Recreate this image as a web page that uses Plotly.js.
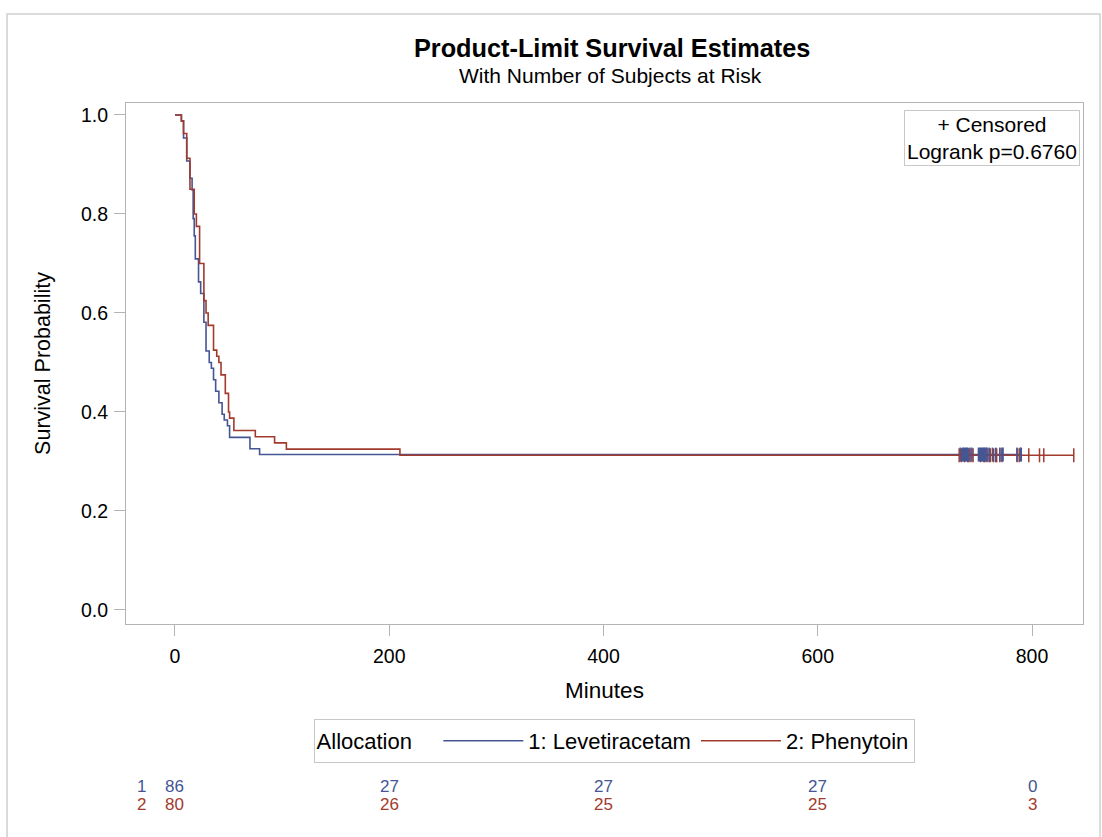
<!DOCTYPE html>
<html>
<head>
<meta charset="utf-8">
<script src="https://cdn.plot.ly/plotly-3.0.1.min.js"></script>
<style>
  html, body { margin: 0; padding: 0; background: #ffffff; }
  #chart { width: 1102px; height: 837px; }
</style>
</head>
<body>
<div id="chart"></div>
<script>
// ---- Data ----
const groupNames = ["1: Levetiracetam", "2: Phenytoin"];
const groupShort = ["1", "2"];

// Kaplan-Meier step points (time in minutes, survival after the step)
const levTimes = [0, 6, 8, 11, 14, 16, 17, 18, 19, 22, 24, 27, 29, 32, 34, 36, 38, 41, 44, 46, 49, 51, 70, 79];
const levSurv  = [1.0, 0.9884, 0.9535, 0.9070, 0.8721, 0.8488, 0.7907, 0.7558, 0.7093, 0.6628, 0.6395, 0.5814,
                  0.5233, 0.5000, 0.4884, 0.4651, 0.4419, 0.4186, 0.3953, 0.3837, 0.3721, 0.3488, 0.3256, 0.3140];

const pheTimes = [0, 6, 8, 11, 14, 18, 20, 23, 27, 29, 31, 36, 39, 41, 43, 47, 50, 51, 55, 75, 93, 104, 210];
const pheSurv  = [1.0, 0.9875, 0.9625, 0.9125, 0.85, 0.8, 0.775, 0.7, 0.625, 0.6, 0.575, 0.525, 0.5125, 0.5,
                  0.475, 0.4375, 0.4, 0.3875, 0.3625, 0.35, 0.3375, 0.325, 0.3125];

// Censored observation times
const levCensor = [733, 735, 736, 737, 738, 739, 740, 742, 744, 750, 751, 752, 753, 754, 755, 756, 757, 758,
                   760, 763, 766, 770, 772, 773, 786, 789, 790];
const pheCensor = [732, 734, 737, 740, 741, 743, 745, 752, 755, 756, 758, 760, 761, 764, 766, 767, 770, 772,
                   786, 788, 797, 807, 811, 839];

// Number at risk table
const riskTimes = [0, 200, 400, 600, 800];
const levRisk = [86, 27, 27, 27, 0];
const pheRisk = [80, 26, 25, 25, 3];

const xTicks = [0, 200, 400, 600, 800];
const yTicks = [0.0, 0.2, 0.4, 0.6, 0.8, 1.0];

const titleText = "Product-Limit Survival Estimates";
const subtitleText = "With Number of Subjects at Risk";
const insetLines = ["+ Censored", "Logrank p=0.6760"];

// ---- Styling ----
const BLUE = "#445694";
const RED = "#A23A2E";
const FONT = "Liberation Sans, Arial, Helvetica, sans-serif";
const GRID = "#b4b4b4";

function last(a) { return a[a.length - 1]; }
function maxOf(a) { return Math.max.apply(null, a); }

const traces = [
  {
    x: levTimes.concat([maxOf(levCensor)]),
    y: levSurv.concat([last(levSurv)]),
    mode: "lines", line: { shape: "hv", color: BLUE, width: 1.6 },
    name: groupNames[0], hoverinfo: "x+y"
  },
  {
    x: pheTimes.concat([maxOf(pheCensor)]),
    y: pheSurv.concat([last(pheSurv)]),
    mode: "lines", line: { shape: "hv", color: RED, width: 1.6 },
    name: groupNames[1], hoverinfo: "x+y"
  },
  {
    x: pheCensor, y: pheCensor.map(() => last(pheSurv)),
    mode: "markers", showlegend: false, name: groupNames[1] + " censored",
    marker: { symbol: "line-ns-open", size: 10, color: RED, line: { color: RED, width: 1.5 } }
  },
  {
    x: levCensor, y: levCensor.map(() => last(levSurv)),
    mode: "markers", showlegend: false, name: groupNames[0] + " censored",
    marker: { symbol: "line-ns-open", size: 10, color: BLUE, line: { color: BLUE, width: 1.5 } }
  }
];

const annotations = [];
// Subtitle
annotations.push({
  xref: "paper", yref: "paper", x: 0.506, y: 1.0537, xanchor: "center", yanchor: "middle",
  text: subtitleText, showarrow: false, font: { family: FONT, size: 21, color: "#000" }
});
// Inset box
annotations.push({
  xref: "paper", yref: "paper", x: 0.9969, y: 0.9866, xanchor: "right", yanchor: "top",
  text: insetLines.join("<br>"), showarrow: false, align: "center",
  font: { family: FONT, size: 21, color: "#000" },
  bordercolor: "#c8c8c8", borderwidth: 1, borderpad: 2, bgcolor: "#fff"
});
// At-risk table
const riskRows = [levRisk, pheRisk];
const rowColors = [BLUE, RED];
const rowY = [-0.311, -0.3474];
riskRows.forEach((row, r) => {
  annotations.push({
    xref: "paper", yref: "paper", x: 0.0167, y: rowY[r], xanchor: "center", yanchor: "middle",
    text: groupShort[r], showarrow: false, font: { family: FONT, size: 17, color: rowColors[r] }
  });
  row.forEach((v, i) => {
    annotations.push({
      xref: "x", yref: "paper", x: riskTimes[i], y: rowY[r], xanchor: "center", yanchor: "middle",
      text: String(v), showarrow: false, font: { family: FONT, size: 17, color: rowColors[r] }
    });
  });
});

const layout = {
  width: 1102, height: 837,
  margin: { l: 126, r: 19, t: 103, b: 213 },
  paper_bgcolor: "#fff", plot_bgcolor: "#fff",
  font: { family: FONT, size: 19.5, color: "#000" },
  title: {
    text: "<b>" + titleText + "</b>",
    font: { family: FONT, size: 25.3, color: "#000" },
    x: 0.508, xref: "paper", xanchor: "center",
    y: 1 - 48 / 837, yref: "container", yanchor: "middle"
  },
  xaxis: {
    range: [-45.7, 847.6], tickvals: xTicks, ticktext: xTicks.map(String),
    ticks: "outside", ticklen: 11, tickcolor: GRID, tickwidth: 1, ticklabelstandoff: 4,
    showgrid: false, zeroline: false, showline: true, linecolor: GRID, mirror: true,
    title: { text: "Minutes", font: { family: FONT, size: 22.5 }, standoff: 15 },
    tickfont: { family: FONT, size: 19.5 }
  },
  yaxis: {
    range: [-0.0283, 1.0242], tickvals: yTicks, ticktext: yTicks.map(v => v.toFixed(1)),
    ticks: "outside", ticklen: 11, tickcolor: GRID, tickwidth: 1, ticklabelstandoff: 2,
    showgrid: false, zeroline: false, showline: true, linecolor: GRID, mirror: true,
    title: { text: "Survival Probability", font: { family: FONT, size: 21.5 }, standoff: 24 },
    tickfont: { family: FONT, size: 19.5 }
  },
  legend: {
    orientation: "h", x: 0.51, xanchor: "center", y: -0.2246, yanchor: "middle",
    title: { text: "Allocation   ", side: "left", font: { family: FONT, size: 22 } },
    bordercolor: "#c8c8c8", borderwidth: 1, bgcolor: "#fff",
    itemwidth: 80, tracegroupgap: 0,
    font: { family: FONT, size: 22 }
  },
  shapes: [
    { type: "rect", xref: "paper", yref: "paper", x0: -0.1243, x1: 1.0178, y0: -0.42, y1: 1.1708,
      line: { color: "#d0d0d0", width: 1.5 }, fillcolor: "rgba(0,0,0,0)", layer: "below" }
  ],
  annotations: annotations,
  showlegend: true
};

Plotly.newPlot("chart", traces, layout, { displayModeBar: false, staticPlot: true });
</script>
</body>
</html>
